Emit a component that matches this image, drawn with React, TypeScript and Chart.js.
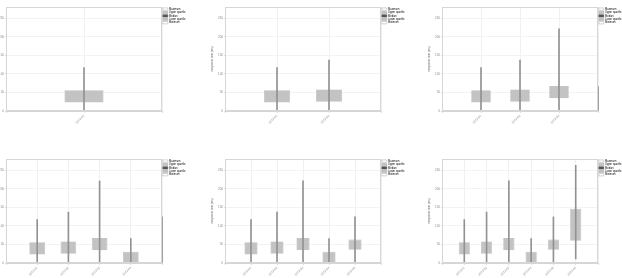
import React, { useEffect, useRef } from "react";
import { Chart, registerables } from "chart.js";

Chart.register(...registerables);

// ---- data ----
const categories = ["2013-01", "2013-02", "2013-03", "2013-04", "2013-05", "2013-06"];
const minimums = [0, 0, 0, 0, 0, 11];
const lowerQuartiles = [23, 25, 34, 3, 36, 60];
const upperQuartiles = [56, 58, 67, 30, 63, 146];
const maximums = [117, 137, 221, 66, 124, 263];
const legendLabels = ["Maximum", "Upper quartile", "Median", "Lower quartile", "Minimum"];
const yTitle = "Response time (ms)";
const yMin = 0;
const yMax = 280;
const yStep = 50;
// panels: number of boxes shown, whether the y title is shown, whether the next box's whisker peeks at the right edge
const panelCounts = [1, 2, 3, 4, 5, 6];
const panelHasTitle = [false, true, true, false, true, true];
const panelEdgeWhisker = [false, false, true, true, false, false];

// ---- layout (styling only) ----
const LEGEND_W = 24;
const PLOT_W = 156;
const colLeft = [0, 211, 428];
const axisW = [6, 14, 14];
const rowTop = [0, 152];
const CANVAS_H = 126;

const frame = {
  id: "frame",
  afterDraw(chart: any) {
    const { ctx, chartArea } = chart;
    ctx.save();
    ctx.strokeStyle = "#d6d6d6";
    ctx.lineWidth = 1;
    ctx.strokeRect(chartArea.left + 0.5, chartArea.top + 0.5, chartArea.right - chartArea.left - 1, chartArea.bottom - chartArea.top - 1);
    ctx.restore();
  },
};

function Panel({ index }: { index: number }) {
  const ref = useRef<HTMLCanvasElement>(null);
  const n = panelCounts[index];
  const col = index % 3;
  const row = Math.floor(index / 3);
  const width = axisW[col] + PLOT_W + LEGEND_W;

  useEffect(() => {
    const boxes = [] as any[];
    const whiskers = [] as any[];
    for (let i = 0; i < n; i++) {
      boxes.push({ x: i + 1, y: [lowerQuartiles[i], upperQuartiles[i]] });
      whiskers.push({ x: i + 1, y: [minimums[i], maximums[i]] });
    }
    if (panelEdgeWhisker[index] && n < categories.length) {
      whiskers.push({ x: n + 1, y: [minimums[n], maximums[n]] });
    }
    const chart = new Chart(ref.current!, {
      type: "bar",
      data: {
        datasets: [
          {
            label: "whisker",
            data: whiskers,
            backgroundColor: "#929292",
            borderWidth: 0,
            barThickness: 1,
            grouped: false,
            clip: 2,
          } as any,
          {
            label: "box",
            data: boxes,
            backgroundColor: "#c3c3c3",
            borderColor: "#b2b2b2",
            borderWidth: 0.6,
            categoryPercentage: 1,
            barPercentage: 0.5,
            grouped: false,
          } as any,
        ],
      },
      options: {
        animation: false,
        responsive: false,
        layout: { padding: { top: 7, left: 0, right: 0, bottom: 0 } },
        plugins: {
          tooltip: { enabled: false },
          legend: {
            position: "right",
            align: "start",
            maxWidth: LEGEND_W,
            labels: {
              font: { size: 2.6 },
              color: "#555",
              boxWidth: 5,
              boxHeight: 2.4,
              padding: 0.8,
              generateLabels: () =>
                legendLabels.map((text, i) => ({
                  text,
                  fillStyle: i === 1 || i === 3 ? "#c3c3c3" : i === 2 ? "#555" : "#ffffff",
                  strokeStyle: i === 2 ? "#555" : "#aaaaaa",
                  lineWidth: 0.5,
                  hidden: false,
                  datasetIndex: 0,
                })),
            },
          } as any,
        },
        scales: {
          x: {
            type: "linear",
            min: 0,
            max: n + 1,
            offset: false,
            afterFit: (s: any) => {
              s.height = 15;
            },
            ticks: {
              stepSize: 1,
              autoSkip: false,
              minRotation: 45,
              maxRotation: 45,
              font: { size: 3 },
              color: "#888",
              padding: 1,
              callback: (v: any) => (v >= 1 && v <= n ? categories[v - 1] : ""),
            },
            grid: { offset: false, color: "#f0f0f0", tickLength: 2, tickColor: "#dddddd" },
            border: { color: "#d6d6d6" },
          },
          y: {
            min: yMin,
            max: yMax,
            afterFit: (s: any) => {
              s.width = axisW[col];
            },
            title: {
              display: panelHasTitle[index],
              text: yTitle,
              font: { size: 2.8 },
              color: "#666",
              padding: 0,
            },
            ticks: {
              stepSize: yStep,
              includeBounds: false,
              font: { size: 3 },
              color: "#888",
              padding: 1,
            },
            grid: { color: "#f3f3f3", tickLength: 1, tickColor: "#dddddd" },
            border: { color: "#d6d6d6" },
          },
        },
      },
      plugins: [frame],
    });
    return () => chart.destroy();
  }, []);

  return (
    <canvas
      ref={ref}
      width={width}
      height={CANVAS_H}
      style={{ position: "absolute", left: colLeft[col], top: rowTop[row], width, height: CANVAS_H }}
    />
  );
}

export default function App() {
  return (
    <div style={{ position: "absolute", left: 0, top: 0, width: 622, height: 278, background: "#fff", overflow: "hidden" }}>
      {panelCounts.map((_, i) => (
        <Panel key={i} index={i} />
      ))}
    </div>
  );
}
